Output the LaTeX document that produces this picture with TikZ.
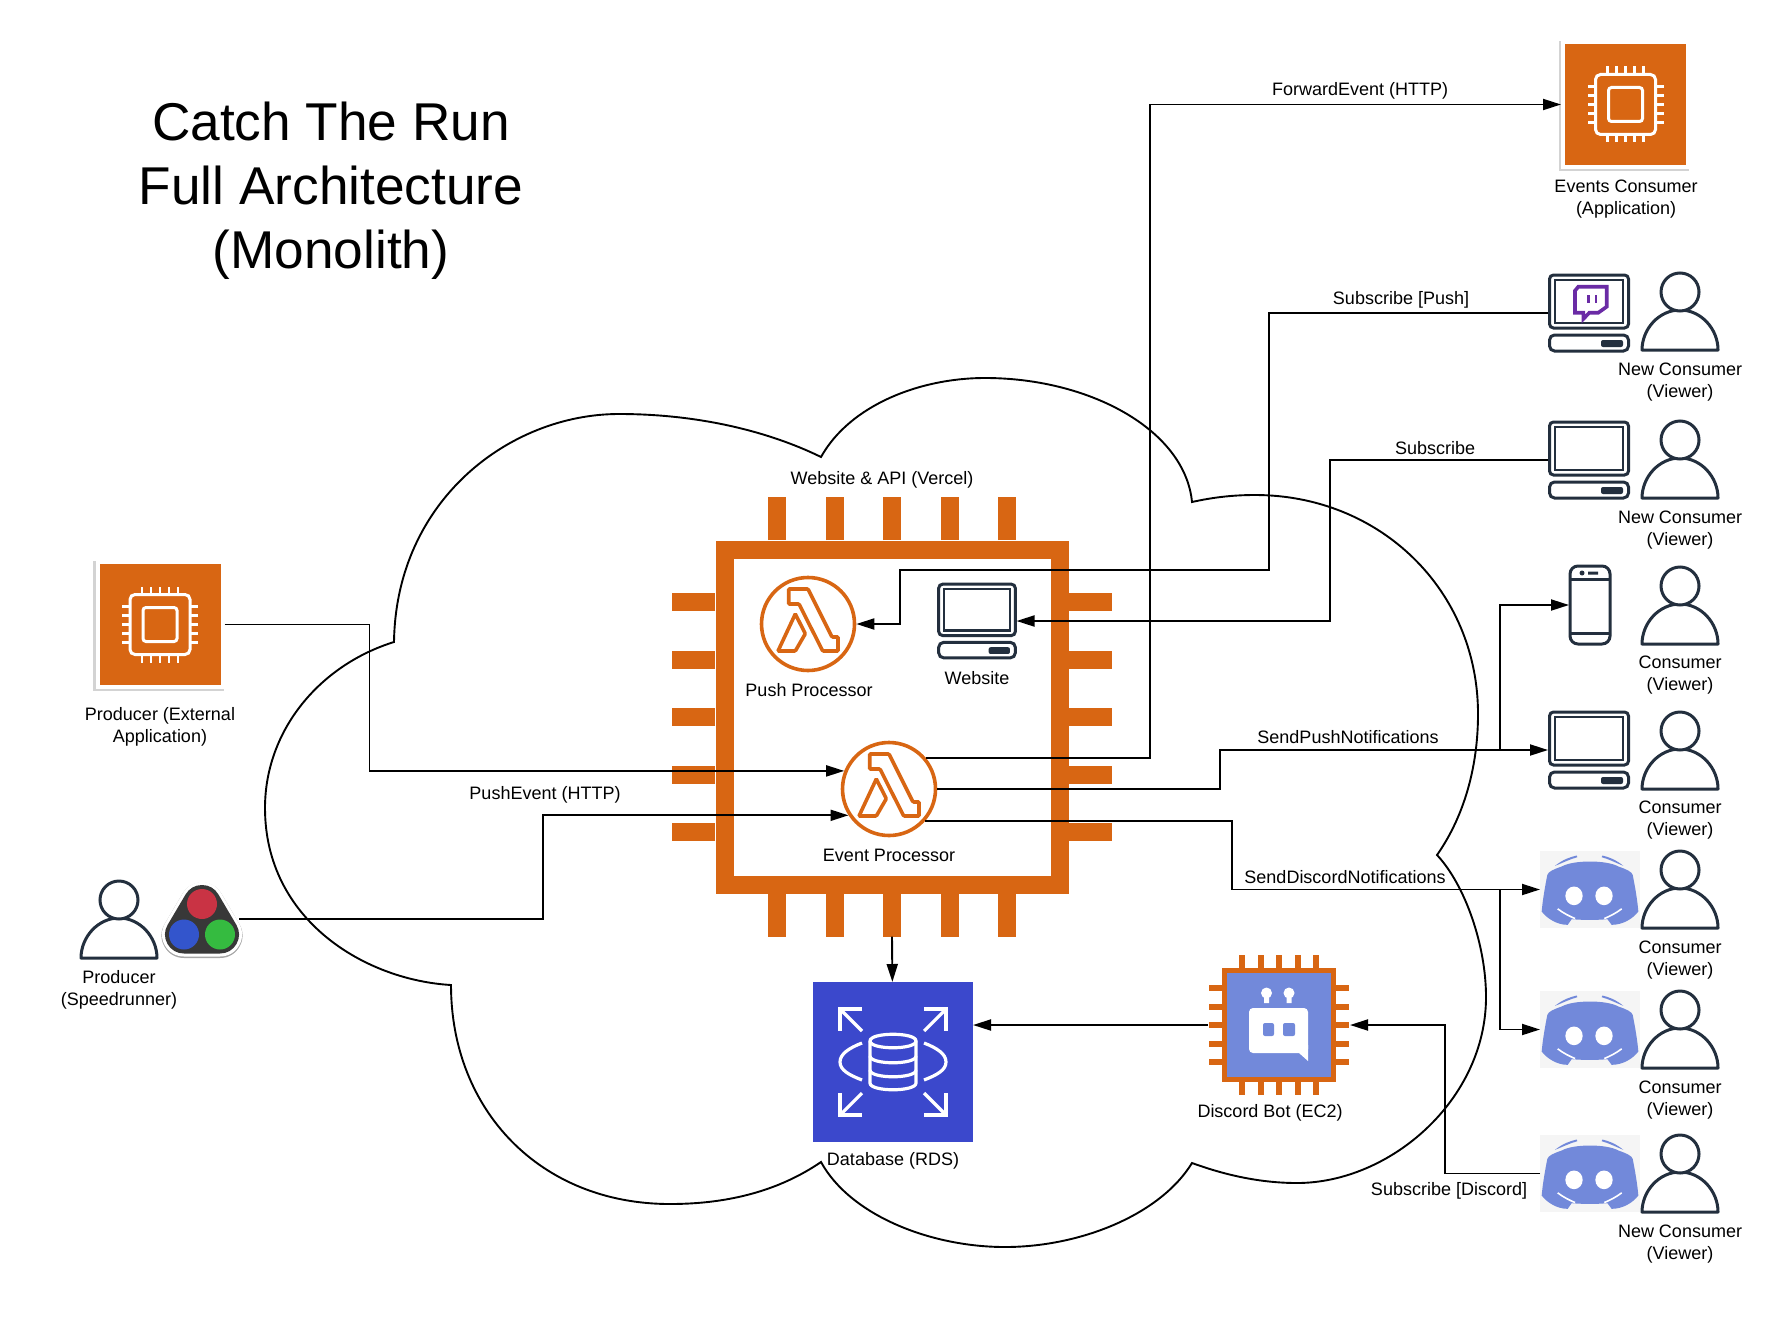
\documentclass[tikz,border=0pt]{standalone}
\usepackage{fontspec}
\setmainfont{Liberation Sans}
\usetikzlibrary{arrows.meta,shadows}
\definecolor{awsorange}{HTML}{D86613}
\definecolor{awsdark}{HTML}{232F3E}
\definecolor{rdsblue}{HTML}{3B48CC}
\definecolor{discordblue}{HTML}{7289DA}
\definecolor{twitchpurple}{HTML}{6A2BA5}
\definecolor{splitred}{HTML}{C93344}
\definecolor{splitblue}{HTML}{3355CC}
\definecolor{splitgreen}{HTML}{35BB40}
\newcommand{\chippins}[4]{
\foreach \p in {#1} {
\draw[line width=#4] (\p,-#2) -- (\p,{-#2-#3});
\draw[line width=#4] (\p,#2) -- (\p,{#2+#3});
\draw[line width=#4] (-#2,\p) -- ({-#2-#3},\p);
\draw[line width=#4] (#2,\p) -- ({#2+#3},\p);
}}
\tikzset{
lab/.style={font=\fontsize{9}{10.75}\selectfont, align=center, inner sep=0pt},
tile/.style={fill=awsorange, draw=white, line width=2pt, minimum size=62.5pt, inner sep=0pt, drop shadow={shadow scale=1.045, shadow xshift=-.7pt, shadow yshift=-.7pt, opacity=.35}},
iconbox/.style={inner sep=0pt, outer sep=0pt, minimum width=#1*.5pt, minimum height=40pt},
lambdabox/.style={circle, draw=awsorange, fill=white, line width=1.8pt, minimum size=46.5pt, inner sep=0pt},
person/.pic={
\draw[awsdark, line width=1.5pt, line join=round, fill=white] (-38,78) .. controls (-38,57) and (-21,38) .. (0,38) .. controls (21,38) and (38,57) .. (38,78) -- cycle;
\draw[awsdark, line width=1.5pt, fill=white] (0,20) circle (19);
},
laptop/.pic={
\draw[awsdark, line width=1.5pt, rounded corners=2pt] (-39.5,-38) rectangle (39.5,15);
\draw[awsdark, line width=1.3pt] (-34,-33) rectangle (34,10);
\draw[awsdark, line width=1.5pt, rounded corners=2.5pt] (-39.5,22) rectangle (39.5,38);
\fill[awsdark, rounded corners=1pt] (12,27) rectangle (34,34);
},
twitch/.pic={
\draw[twitchpurple, line width=1.8pt, line join=miter] (-10.7,-26.3) -- (17.7,-26.3) -- (17.7,-6.3) -- (9.3,-.3) -- (.3,-.3) -- (-5.7,6) -- (-5.7,-.3) -- (-14,-.3) -- (-14,-22.3) -- cycle;
\draw[twitchpurple, line width=1.2pt] (-.7,-18) -- (-.7,-9.7) (7,-18) -- (7,-9.7);
},
phoneicon/.pic={
\draw[awsdark, line width=1.5pt, rounded corners=4pt] (-20,-39) rectangle (20,39);
\draw[awsdark, line width=1.5pt] (-20,-26) -- (20,-26) (-20,28) -- (20,28);
\fill[awsdark] (-8,-32) circle (2.5) (-2,-33.5) rectangle (8,-30.5);
},
discord/.pic={
\begin{scope}[scale=1/3, shift={(-150,-116)}]
\fill[black!4] (0,0) rectangle (300,232);
\fill[discordblue] (65,47) .. controls (100,27) and (200,27) .. (235,47) .. controls (258,55) and (275,62) .. (278,72) .. controls (285,107) and (292,147) .. (295,182) .. controls (280,202) and (250,222) .. (215,222) -- (202,205) .. controls (170,208) and (130,208) .. (95,205) -- (83,222) .. controls (50,222) and (20,202) .. (5,182) .. controls (8,147) and (15,107) .. (22,72) .. controls (25,62) and (42,55) .. (65,47) -- cycle;
\draw[black!4, line width=1.6pt] (45,45) .. controls (70,32) and (90,26) .. (113,22) (255,45) .. controls (230,32) and (210,26) .. (187,22);
\fill[discordblue] (45,45) .. controls (70,25) and (90,19) .. (110,14) -- (112,19) .. controls (90,25) and (70,35) .. (45,45) -- cycle;
\fill[discordblue] (250,45) .. controls (225,25) and (207,19) .. (187,14) -- (185,19) .. controls (207,25) and (225,35) .. (250,45) -- cycle;
\draw[white, line width=.8pt] (53,174) .. controls (70,187) and (90,197) .. (105,203) (245,174) .. controls (228,187) and (208,197) .. (193,203);
\fill[white] (102,135) ellipse (26 and 28) (192,135) ellipse (26 and 28);
\end{scope}
},
cpu/.pic={
\begin{scope}[color=white]
\draw[line width=1.5pt, rounded corners=2.5pt] (-30,-30) rectangle (30,30);
\draw[line width=1.5pt, rounded corners=1.5pt] (-17,-17) rectangle (17,17);
\chippins{-18,-9,0,9,18}{31}{7}{1.2pt}
\end{scope}
},
lambda/.pic={
\draw[awsorange, line width=1.8pt, rounded corners=.5pt] (-19.3,-35) -- (0,-35) -- (24,13) -- (30,13) -- (30,27) -- (14.7,27) -- (-9,-20) -- (-19.3,-20) -- cycle;
\draw[awsorange, line width=1.8pt, rounded corners=.5pt] (-12.7,-10) -- (-2.7,9.7) -- (-12.7,27) -- (-30,27) -- cycle;
},
dbicon/.pic={
\begin{scope}[color=white, line width=1.6pt]
\foreach \sx/\sy in {1/1,1/-1,-1/1,-1/-1} {
\draw ({\sx*31},{\sy*53}) -- ({\sx*53},{\sy*53}) -- ({\sx*53},{\sy*31});
\draw ({\sx*53},{\sy*53}) -- ({\sx*31},{\sy*31});
}
\draw (-31,-19) .. controls (-44,-14) and (-53,-8) .. (-53,0) .. controls (-53,8) and (-44,13) .. (-31,18);
\draw (31,-19) .. controls (44,-14) and (53,-8) .. (53,0) .. controls (53,8) and (44,13) .. (31,18);
\draw (-23,-21) .. controls (-23,-30) and (23,-30) .. (23,-21) -- (23,21) .. controls (23,30) and (-23,30) .. (-23,21) -- cycle;
\foreach \yy in {-21,-6,8} {
\draw (-23,\yy) .. controls (-23,\yy+9) and (23,\yy+9) .. (23,\yy);
}
\end{scope}
},
boticon/.pic={
\fill[white, rounded corners=2pt] (-30,-17) rectangle (29,28);
\fill[white] (20,28) -- (29,36) -- (29,20) -- cycle;
\fill[white] (-12.5,-32) circle (5.5) (10,-32) circle (5.5);
\fill[white] (-15,-32) rectangle (-10,-22) (7.5,-32) rectangle (12.5,-22);
\fill[discordblue, rounded corners=1pt] (-16,-2) rectangle (-5,11) (4,-2) rectangle (16,11);
},
apipins/.pic={
\begin{scope}[color=awsorange]
\chippins{-115,-57.5,0,57.5,115}{177}{43}{9pt}
\end{scope}
},
botpins/.pic={
\begin{scope}[color=awsorange]
\chippins{-37,-18.5,0,18.5,37}{56}{14}{3pt}
\end{scope}
},
livesplit/.pic={
\draw[black!35, line width=22.5pt, line join=round] (0,-14) -- (-18,16.5) -- (18,16.5) -- cycle;
\draw[white, line width=22pt, line join=round] (0,-15) -- (-18,15.5) -- (18,15.5) -- cycle;
\draw[black!78, fill=black!78, line width=19pt, line join=round] (0,-15) -- (-18,15.5) -- (18,15.5) -- cycle;
\fill[splitred] (0,-15) circle (15);
\fill[splitblue] (-18,15.5) circle (15);
\fill[splitgreen] (18,15.5) circle (15);
}
}
\begin{document}
\begin{tikzpicture}[x=.5pt,y=-.5pt,>={Triangle[length=9pt,width=5.5pt]},line width=.95pt]
\useasboundingbox (0,0) rectangle (1780,1316);
\node[lab, font=\fontsize{26.6}{32}\selectfont] (title) at (331,191) {Catch The Run\\Full Architecture\\(Monolith)};
\draw (394,642) .. controls (396,500) and (510,414) .. (619,414) .. controls (700,414) and (770,432) .. (821,457) .. controls (850,405) and (920,378) .. (985,378) .. controls (1090,378) and (1185,430) .. (1192,502) .. controls (1210,498) and (1230,495) .. (1255,495) .. controls (1380,495) and (1478,590) .. (1478,714) .. controls (1478,765) and (1465,815) .. (1437,855) .. controls (1465,885) and (1486,945) .. (1486,997) .. controls (1486,1100) and (1390,1183) .. (1297,1183) .. controls (1260,1183) and (1225,1175) .. (1192,1163) .. controls (1160,1215) and (1080,1247) .. (1005,1247) .. controls (930,1247) and (850,1215) .. (821,1162) .. controls (780,1190) and (730,1204) .. (670,1204) .. controls (540,1204) and (451,1110) .. (451,985) .. controls (365,980) and (265,920) .. (265,808) .. controls (265,730) and (320,665) .. (394,642) -- cycle;
\pic at (892,717) {apipins};
\node[draw=awsorange, fill=white, line width=9pt, minimum size=167.5pt, inner sep=0pt] (api) at (892,717) {};
\node[lab] (apilab) at (882,480) {Website \& API (Vercel)};
\node[lambdabox] (push) at (808,624) {};
\pic at (push) {lambda};
\node[lab] (pushlab) at (809,690) {Push Processor};
\node[iconbox=79] (web) at (977,621) {};
\pic[scale=.97] at (web) {laptop};
\node[lab] (weblab) at (977,678) {Website};
\node[lambdabox] (ev) at (889,789) {};
\pic at (ev) {lambda};
\node[lab] (evlab) at (889,855) {Event Processor};
\node[fill=rdsblue, minimum size=80pt, inner sep=0pt, outer sep=0pt] (db) at (893,1062) {};
\pic at (db) {dbicon};
\node[lab] (dblab) at (893,1161) {Database (RDS)};
\pic at (1279,1025) {botpins};
\node[fill=discordblue, draw=awsorange, line width=2.5pt, minimum size=54.5pt, inner sep=0pt] (bot) at (1279,1025) {};
\pic at (bot) {boticon};
\node[lab] (botlab) at (1270,1113) {Discord Bot (EC2)};
\node[tile] (evcons) at (1625.5,104.5) {};
\pic at (evcons) {cpu};
\node[lab] (evconslab) at (1626,199) {Events Consumer\\(Application)};
\node[tile] (app) at (160,624.5) {};
\pic at (app) {cpu};
\node[lab] (applab) at (160,727) {Producer (External\\Application)};
\pic at (119,880) {person};
\node[lab] (speedlab) at (119,990) {Producer\\(Speedrunner)};
\node[iconbox=74] (split) at (202,919) {};
\pic at (split) {livesplit};
\node[iconbox=82] (lapa) at (1589,313) {};
\pic at (lapa) {laptop};
\pic at (lapa) {twitch};
\pic at (1680,272) {person};
\node[lab] (lapalab) at (1680,382) {New Consumer\\(Viewer)};
\node[iconbox=82] (lapb) at (1589,460) {};
\pic at (lapb) {laptop};
\pic at (1680,420) {person};
\node[lab] (lapblab) at (1680,530) {New Consumer\\(Viewer)};
\node[iconbox=42] (phone) at (1590,605) {};
\pic at (phone) {phoneicon};
\pic at (1680,566) {person};
\node[lab] (phonelab) at (1680,675) {Consumer\\(Viewer)};
\node[iconbox=82] (lapc) at (1589,750) {};
\pic at (lapc) {laptop};
\pic at (1680,711) {person};
\node[lab] (lapclab) at (1680,820) {Consumer\\(Viewer)};
\node[iconbox=100] (disa) at (1590,889.5) {};
\pic at (disa) {discord};
\pic at (1680,850) {person};
\node[lab] (disalab) at (1680,960) {Consumer\\(Viewer)};
\node[iconbox=100] (disb) at (1590,1029.5) {};
\pic at (disb) {discord};
\pic at (1680,990) {person};
\node[lab] (disblab) at (1680,1100) {Consumer\\(Viewer)};
\node[iconbox=100] (disc) at (1590,1173.5) {};
\pic at (disc) {discord};
\pic at (1680,1134) {person};
\node[lab] (disclab) at (1680,1244) {New Consumer\\(Viewer)};
\coordinate (apitip) at ([yshift=-21.5pt]api.south);
\coordinate (botwest) at ([xshift=-7pt]bot.west);
\coordinate (boteast) at ([xshift=7pt]bot.east);
\coordinate (forkpush) at (1500,750);
\coordinate (forkdis) at (1500,889.5);
\draw[->] (apitip) -- (db);
\draw[->] (botwest) -- (db.east |- botwest);
\draw[->] (ev.40) -- ++(224,0) |- (evcons);
\node[lab] (fwdlab) at (1360,91) {ForwardEvent (HTTP)};
\draw[->] (lapa.west) -| (1269,570) -| (900,624) -- (push);
\node[lab] (subpushlab) at (1401,300) {Subscribe [Push]};
\draw[->] (lapb.west) -- ++(-218,0) |- (web);
\node[lab] (sublab) at (1435,448) {Subscribe};
\draw[->] (app.east) -- ++(145,0) |- (ev.158);
\draw[->] (split.east) -- ++(304,0) |- (ev.213);
\node[lab] (httplab) at (545,795) {PushEvent (HTTP)};
\draw[->] (ev.east) -- ++(283,0) |- (lapc);
\draw[->] (forkpush) |- (phone);
\node[lab] (pushnotlab) at (1348,737) {SendPushNotifications};
\draw[->] (ev.-42) -- ++(307,0) |- (disa);
\draw[->] (forkdis) |- (disb);
\node[lab] (disnotlab) at (1345,877) {SendDiscordNotifications};
\draw[->] (disc.west) -- ++(-95,0) |- (boteast);
\node[lab] (subdislab) at (1449,1191) {Subscribe [Discord]};
\end{tikzpicture}
\end{document}
